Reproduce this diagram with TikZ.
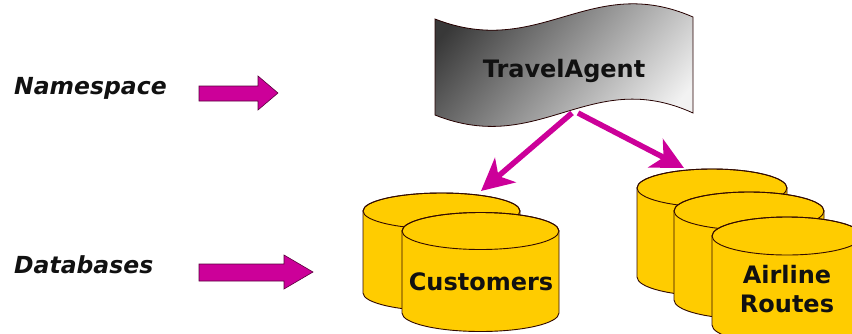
\documentclass[tikz,border=0pt]{standalone}
\usepackage{fontspec}
\setmainfont{DejaVu Sans}
\usetikzlibrary{arrows.meta}
\definecolor{mag}{RGB}{204,0,153}
\definecolor{magedge}{RGB}{90,0,60}
\definecolor{dbyellow}{RGB}{255,204,0}
\definecolor{dbedge}{RGB}{50,10,0}
\definecolor{txt}{RGB}{17,17,17}
\tikzset{
  lbl/.style={font=\fontsize{23.5}{28}\selectfont\bfseries\itshape, text=txt, inner sep=0pt},
  ttl/.style={font=\fontsize{24}{29}\selectfont\bfseries, text=txt, inner sep=0pt, align=center},
  blockarrow/.style={fill=mag, draw=magedge, line width=0.6pt},
  link/.style={draw=mag, line width=5.5pt, -{Stealth[length=32pt, width=32pt, inset=9pt]}},
  dbbody/.style={fill=dbyellow, draw=dbedge, line width=0.9pt},
}
\newcommand\dbcyl[5]{% cx, cy(top), rx, ry, h
  \filldraw[dbbody] ({#1-#3},#2) -- ({#1-#3},{#2+#5})
     arc[start angle=180, end angle=0, x radius=#3, y radius=#4]
     -- ({#1+#3},#2)
     arc[start angle=0, end angle=-180, x radius=#3, y radius=#4] -- cycle;
  \draw[dbedge, line width=0.9pt] (#1,#2) ellipse[x radius=#3, y radius=#4];
}
\begin{document}
\begin{tikzpicture}[x=1pt,y=-1pt]
\clip (0,0) rectangle (852,333);
\fill[white] (0,0) rectangle (852,333);

% labels
\node[lbl, anchor=base west] (ns) at (14,94) {Namespace};
\node[lbl, anchor=base west] (db) at (14,273) {Databases};

% block arrows
\filldraw[blockarrow] (199,86) -- (258,86) -- (258,76) -- (278,93) -- (258,110) -- (258,101) -- (199,101) -- cycle;
\filldraw[blockarrow] (199,264) -- (284,264) -- (284,255) -- (313,272) -- (284,289) -- (284,281) -- (199,281) -- cycle;

% TravelAgent wave
\shade[top color=black!78, bottom color=black!5, shading angle=50]
  (435,19) .. controls (540,60) and (590,-28) .. (693,17)
  -- (693,113) .. controls (590,66) and (540,157) .. (435,115) -- cycle;
\draw[draw=black!85!red, line width=0.8pt]
  (435,19) .. controls (540,60) and (590,-28) .. (693,17)
  -- (693,113) .. controls (590,66) and (540,157) .. (435,115) -- cycle;
\node[ttl, anchor=base] (ta) at (564,77) {TravelAgent};

% Customers cylinders
\dbcyl{441.5}{211}{78.5}{18}{82}
\dbcyl{480.5}{231}{78.5}{18.5}{82}
\node[ttl, anchor=base] (cust) at (481,290) {Customers};

% Airline Routes cylinders
\dbcyl{712}{188}{75}{19}{89}
\dbcyl{749}{211}{75}{19}{89}
\dbcyl{787}{236}{75}{19}{89}
\node[ttl] (air) at (787,289) {Airline\\Routes};

% connectors
\coordinate (out1) at (572,113);
\coordinate (out2) at (578,113);
\coordinate (in1) at (481,191);
\coordinate (in2) at (684,168);
\draw[link] (out1) -- (in1);
\draw[link] (out2) -- (in2);
\end{tikzpicture}
\end{document}
